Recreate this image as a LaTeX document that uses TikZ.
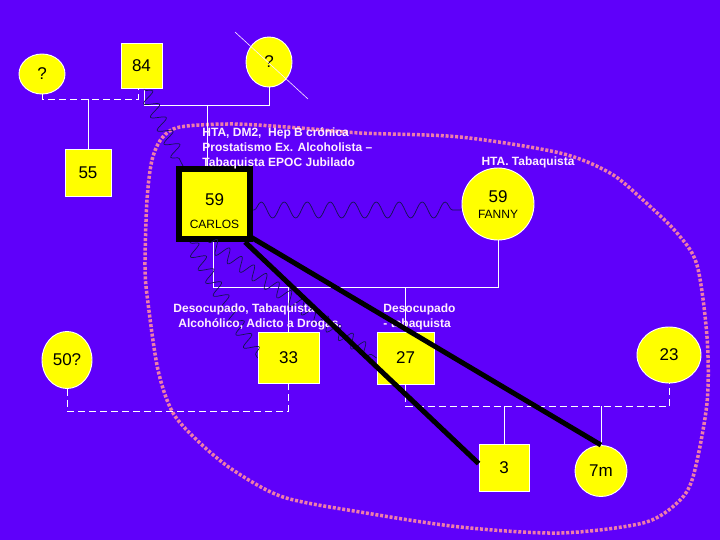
\documentclass[tikz,border=0pt]{standalone}
\usepackage{fontspec}
\setmainfont{Liberation Sans}
\usepackage{xcolor}
\usepackage{tikz}
\usetikzlibrary{shapes.geometric, decorations.pathmorphing}

\definecolor{fondo}{RGB}{95,0,250}
\definecolor{amarillo}{RGB}{255,255,0}
\definecolor{hogar}{RGB}{238,125,170}
\definecolor{conflictivo}{RGB}{20,20,80}
\definecolor{rotulo}{RGB}{255,238,255}

\begin{document}
\begin{tikzpicture}[x=1pt, y=-1pt,
    every node/.style={draw=white, line width=0.9pt, fill=amarillo, inner sep=0pt, font=\fontsize{17}{17}\selectfont},
    varon/.style={rectangle},
    mujer/.style={ellipse},
    texto/.style={draw=none, fill=none},
    nombre/.style={draw=none, fill=none, font=\fontsize{12}{12}\selectfont},
    nota/.style={draw=none, fill=none, text=rotulo, align=left, anchor=west, font=\fontsize{12}{15}\selectfont\bfseries},
    vinculo/.style={draw=white, line width=0.9pt},
    separado/.style={vinculo, dash pattern=on 7pt off 4pt},
    conflicto/.style={draw=conflictivo, line width=0.7pt, decorate, decoration={snake, amplitude=7pt, segment length=15pt, pre length=1pt, post length=1pt}},
    corte/.style={draw=black, line width=5pt}]

                    % Background and household
                    \fill[fondo] (0,0) rectangle (720,540);
                    \useasboundingbox (0,0) rectangle (720,540);
                    \draw[hogar, line width=3.5pt, dash pattern=on 3pt off 1.8pt]
                        plot[smooth cycle] coordinates {(147,200) (152,160) (162,138) (180,127) (233,124) (300,128) (360,133) (460,137) (560,153) (610,173) (643,200) (677,233) (697,265) (707,337) (707,403) (693,477) (677,503) (643,523) (560,533) (460,527) (360,512) (283,497) (233,470) (200,443) (173,413) (158,370) (148,303) (145,267)};

                    % Define node coordinates explicitly
                    \node (AbuelaA) [mujer, minimum width=46, minimum height=40] at (42,74)    {?};
                    \node (Abuelo)  [varon, minimum width=41, minimum height=45] at (141.5,66) {84};
                    \node (AbuelaB) [mujer, minimum width=46, minimum height=50] at (269,62)   {?};
                    \node (Tio)     [varon, minimum width=46, minimum height=47] at (88,173)   {55};
                    \node (Carlos)  [varon, draw=black, line width=6pt, minimum width=71, minimum height=70] at (214.5,204) {};
                    \node (Fanny)   [mujer, minimum width=72, minimum height=72] at (498,204)  {};
                    \node (Nuera50) [mujer, minimum width=50, minimum height=57] at (67,360)   {50?};
                    \node (Hijo33)  [varon, minimum width=61, minimum height=51] at (288.5,358) {33};
                    \node (Hijo27)  [varon, minimum width=57, minimum height=52] at (405.5,358) {27};
                    \node (Nuera23) [mujer, minimum width=64, minimum height=56] at (669,355)  {23};
                    \node (Nieto3)  [varon, minimum width=50, minimum height=47] at (504,468)  {3};
                    \node (Nieta7m) [mujer, minimum width=52, minimum height=51] at (601,471)  {7m};

                    % Ages and names of the couple
                    \node (edadCarlos)   [texto]  at (214.5,200) {59};
                    \node (nombreCarlos) [nombre] at (214.5,224) {CARLOS};
                    \node (edadFanny)    [texto]  at (498,197)   {59};
                    \node (nombreFanny)  [nombre] at (498,214)   {FANNY};

                    % Family lines
                    \coordinate (bodaA) at (88,99);
                    \coordinate (bodaB) at (207,105);
                    \coordinate (hijos) at (0,287);
                    \coordinate (nietos) at (0,406);
                    \draw[separado] (AbuelaA.south) -- ++(0,5) -| ([xshift=-3.5pt]Abuelo.south);
                    \draw[vinculo] (bodaA) -- (bodaA |- Tio.north);
                    \draw[vinculo] ([xshift=2.5pt]Abuelo.south) -- ++(0,17) -| (AbuelaB.south);
                    \draw[vinculo] (bodaB) -- (bodaB |- Carlos.north);
                    \draw[vinculo] ([xshift=-1.5pt]Carlos.south) -- ++(0,45) -| (Fanny.south);
                    \draw[vinculo] (Hijo33.north) -- (Hijo33.north |- hijos);
                    \draw[vinculo] (Hijo27.north) -- (Hijo27.north |- hijos);
                    \draw[separado] (Nuera50.south) -- ++(0,22) -| (Hijo33.south);
                    \draw[separado] (Hijo27.south) -- ++(0,22) -| (Nuera23.south);
                    \draw[vinculo] (Nieto3.north) -- (Nieto3.north |- nietos);
                    \draw[vinculo] (Nieta7m.north) -- (Nieta7m.north |- nietos);

                    % Deceased mark
                    \draw[rotulo, line width=0.6pt] ([shift={(-34,-30)}]AbuelaB.center) -- ([shift={(39,37)}]AbuelaB.center);

                    % Conflict relations
                    \draw[conflicto] ([xshift=2.5pt]Abuelo.south) -- ([xshift=7pt]Carlos.north west);
                    \draw[conflicto] ([yshift=-6pt]Carlos.east) -- ([yshift=-6pt]Fanny.west)
                        [decoration={snake, amplitude=8pt, segment length=23pt}];
                    \draw[conflicto] ([xshift=14pt]Carlos.south west) -- (Hijo33.west);
                    \draw[conflicto] ([xshift=-6pt]Carlos.south) -- (Hijo27.west);

                    % Notes
                    \node (notaCarlos) [nota] at (202,148) {HTA, DM2,\ \ Hep B crónica\\Prostatismo Ex. Alcoholista –\\Tabaquista EPOC Jubilado};
                    \node (notaFanny)  [nota, anchor=center] at (528,162) {HTA. Tabaquista};
                    \node (nota33)     [nota] at (173,316.5) {Desocupado, Tabaquista\\\hspace*{5pt}Alcohólico, Adicto a Drogas.};
                    \node (nota27)     [nota] at (383,316.5) {Desocupado\\- tabaquista};

                    % Cut-off relations
                    \draw[corte] ([shift={(-4,-6)}]Carlos.south east) -- (Nieta7m.north);
                    \draw[corte] ([xshift=-8pt]Carlos.south east) -- (Nieto3.170);
\end{tikzpicture}
\end{document}
